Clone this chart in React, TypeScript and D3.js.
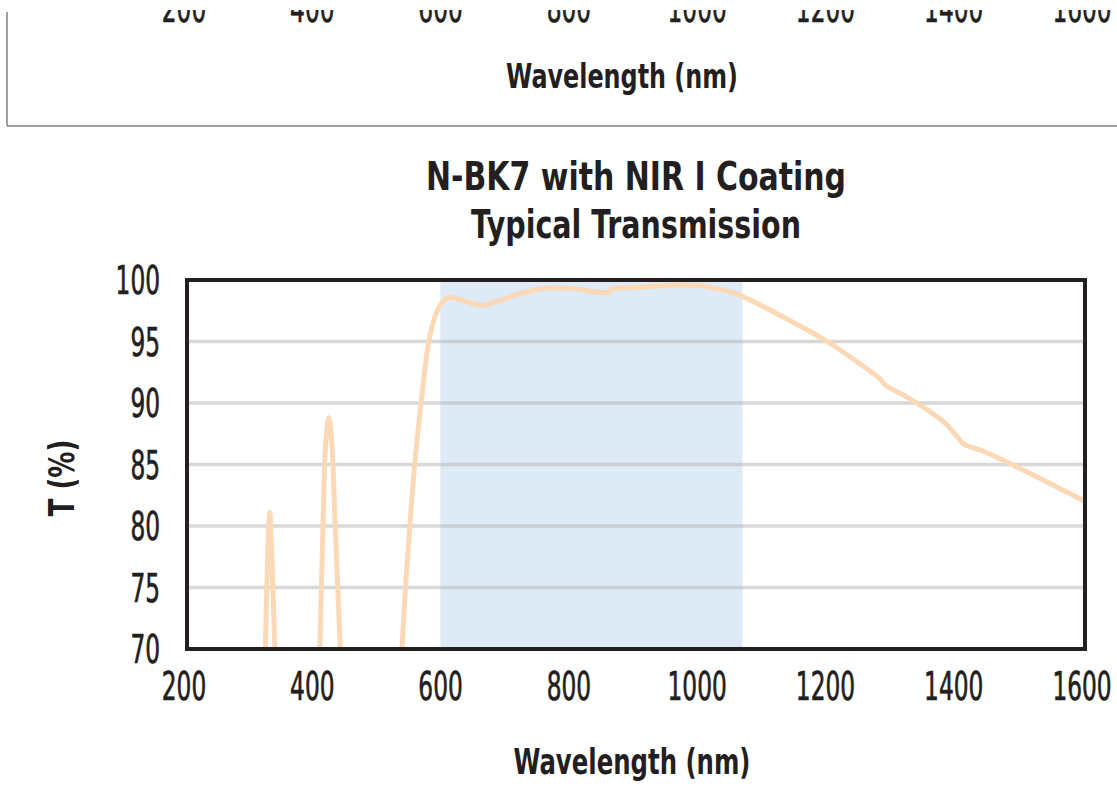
import React from 'react'
import * as d3 from 'd3'

const W = 1117
const H = 811

const xTicks = [200, 400, 600, 800, 1000, 1200, 1400, 1600]
const yTicks = [70, 75, 80, 85, 90, 95, 100]

// coating band (nm)
const bandStart = 595
const bandEnd = 1066

// typical transmission (values below 70 fall outside the frame)
const wavelength = [
  300, 316, 322, 326, 329, 332, 337, 343, 360,
  390, 402, 407, 412, 416, 421, 426, 431, 439, 447, 470,
  515, 535, 555, 565, 577, 590, 600, 610, 625, 645, 661, 680, 720, 761, 800, 858, 862, 900, 969,
  1000, 1020, 1050, 1073, 1129, 1198, 1270, 1280, 1288, 1332, 1379, 1400, 1410, 1420, 1441, 1478, 1540, 1600
]
const transmission = [
  20, 55, 70, 78, 81.1, 78, 70, 55, 20,
  20, 55, 70, 80, 86.5, 88.8, 86.5, 80, 70, 55, 20,
  40, 70, 85, 90, 95, 97.5, 98.3, 98.6, 98.4, 98.1, 97.95, 98.2, 98.9, 99.35, 99.3, 99.0, 99.25, 99.4, 99.6,
  99.55, 99.35, 99.0, 98.5, 97.0, 95.0, 92.4, 92.0, 91.5, 90.2, 88.5, 87.3, 86.7, 86.45, 86.1, 85.2, 83.6, 82.0
]

const FONT = "'Liberation Sans Narrow', 'DejaVu Sans Condensed', 'Roboto Condensed', 'Liberation Sans', sans-serif"
const INK = '#231f20'

// condensed look: squeeze the digits to the width they have in the picture
const digitWidth = (t: number) => String(t).length * 14.8

const App = () => {
  const x = d3.scaleLinear().domain([200, 1600]).range([187, 1085])
  const y = d3.scaleLinear().domain([70, 100]).range([649, 280])

  const pts = wavelength.map((w, i) => [w, transmission[i]] as [number, number])
  const line = d3
    .line<[number, number]>()
    .x(d => x(d[0]))
    .y(d => y(d[1]))
    .curve(d3.curveCatmullRom.alpha(0.5))

  const tickText = { fontSize: 39, fill: INK, stroke: INK, strokeWidth: 0.7 }

  return (
    <div style={{ position: 'absolute', left: 0, top: 0 }}>
      <svg width={W} height={H} style={{ display: 'block', background: '#fff' }} fontFamily={FONT}>
        <defs>
          <clipPath id="plot">
            <rect x={x(200)} y={y(100)} width={x(1600) - x(200)} height={y(70) - y(100)} />
          </clipPath>
          <clipPath id="topcut">
            <rect x={0} y={10} width={W} height={40} />
          </clipPath>
        </defs>

        {/* bottom of the chart above */}
        <line x1={7} y1={12} x2={7} y2={126} stroke="#808080" strokeWidth={1.5} />
        <line x1={7} y1={126} x2={W} y2={126} stroke="#808080" strokeWidth={1.5} />
        <g clipPath="url(#topcut)">
          {xTicks.map(t => (
            <text key={'top' + t} x={x(t) - 3} y={22} textAnchor="middle" {...tickText}
              textLength={digitWidth(t)} lengthAdjust="spacingAndGlyphs">
              {t}
            </text>
          ))}
        </g>
        <text x={622} y={88} textAnchor="middle" fontSize={33} fontWeight="bold" fill={INK}
          textLength={232} lengthAdjust="spacingAndGlyphs">
          Wavelength (nm)
        </text>

        {/* title */}
        <text x={636} y={190} textAnchor="middle" fontSize={39} fontWeight="bold" fill={INK}
          textLength={420} lengthAdjust="spacingAndGlyphs">
          N-BK7 with NIR I Coating
        </text>
        <text x={636} y={238} textAnchor="middle" fontSize={39} fontWeight="bold" fill={INK}
          textLength={330} lengthAdjust="spacingAndGlyphs">
          Typical Transmission
        </text>

        <rect x={x(bandStart)} y={y(100)} width={x(bandEnd) - x(bandStart)} height={y(70) - y(100)} fill="#deebf6" />

        {yTicks.slice(1, -1).map(t => (
          <line key={'g' + t} x1={x(200)} x2={x(1600)} y1={y(t)} y2={y(t)} stroke="#b8b8b8" strokeOpacity={0.55} strokeWidth={3.5} />
        ))}

        <path d={line(pts) || ''} fill="none" stroke="#fcd9b6" strokeWidth={5} strokeLinejoin="round" clipPath="url(#plot)" />

        <rect x={x(200)} y={y(100)} width={x(1600) - x(200)} height={y(70) - y(100)} fill="none" stroke={INK} strokeWidth={4} />

        {yTicks.map(t => (
          <text key={'y' + t} x={160} y={y(t) + 14} textAnchor="end" {...tickText}
            textLength={digitWidth(t)} lengthAdjust="spacingAndGlyphs">
            {t}
          </text>
        ))}
        {xTicks.map(t => (
          <text key={'x' + t} x={x(t) - 3} y={700} textAnchor="middle" {...tickText}
            textLength={digitWidth(t)} lengthAdjust="spacingAndGlyphs">
            {t}
          </text>
        ))}

        <text x={632} y={774} textAnchor="middle" fontSize={35} fontWeight="bold" fill={INK}
          textLength={237} lengthAdjust="spacingAndGlyphs">
          Wavelength (nm)
        </text>
        <text transform="translate(74,478) rotate(-90)" textAnchor="middle" fontSize={36} fontWeight="bold" fill={INK}
          textLength={77} lengthAdjust="spacingAndGlyphs">
          T (%)
        </text>
      </svg>
    </div>
  )
}

export default App
